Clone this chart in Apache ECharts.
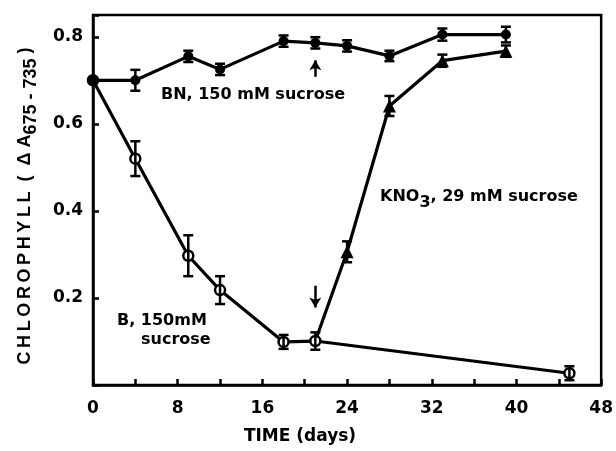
<!DOCTYPE html>
<html>
<head>
<meta charset="utf-8">
<script src="https://cdn.jsdelivr.net/npm/echarts@6/dist/echarts.min.js"></script>
<style>
html,body{margin:0;padding:0;background:#fff;}
#main{width:616px;height:451px;}
</style>
</head>
<body>
<div id="main"></div>
<script>
// ---- data ----
const daysBN = [0, 4, 9, 12, 18, 21, 24, 28, 33, 39];
const chlBN  = [0.70, 0.70, 0.755, 0.725, 0.79, 0.786, 0.779, 0.756, 0.805, 0.805];
const errBN  = [0, 0.024, 0.013, 0.013, 0.013, 0.013, 0.013, 0.012, 0.014, 0.018];

const daysB = [0, 4, 9, 12, 18, 21, 45];
const chlB  = [0.70, 0.52, 0.297, 0.218, 0.099, 0.101, 0.027];
const errB  = [0, 0.04, 0.047, 0.032, 0.016, 0.02, 0.016];

const daysK = [21, 24, 28, 33, 39];
const chlK  = [0.101, 0.306, 0.641, 0.745, 0.767];
const errK  = [0, 0.024, 0.023, 0.014, 0.013];

const xTicks = [0, 8, 16, 24, 32, 40, 48];
const yTicks = [0.2, 0.4, 0.6, 0.8];

const labelBN = 'BN, 150 mM sucrose';
const labelK  = ['KNO', '3', ', 29 mM sucrose'];
const labelB  = ['B, 150mM', 'sucrose'];
const yTitle  = ['CHLOROPHYLL', '\u00a0\u00a0(\u00a0\u00a0Δ\u00a0A', '675 - 735', '\u00a0)'];
const arrowUp = [[21, 0.708], [21, 0.746]];
const arrowDown = [[21, 0.228], [21, 0.178]];

const FONT = '"DejaVu Sans", sans-serif';
const spaced = s => s.split('').join('\u2009');

function pts(xs, ys) { return xs.map((x, i) => [x, ys[i]]); }
function errData(xs, ys, es) {
  const out = [];
  xs.forEach((x, i) => { if (es[i] > 0) out.push([x, ys[i] - es[i], ys[i] + es[i]]); });
  return out;
}
function errSeries(data) {
  return {
    type: 'custom',
    z: 5,
    data: data,
    renderItem: function (params, api) {
      const x = api.value(0);
      const lo = api.coord([x, api.value(1)]);
      const hi = api.coord([x, api.value(2)]);
      const w = 5;
      const st = { stroke: '#000', lineWidth: 2.5, fill: null };
      return {
        type: 'group',
        children: [
          { type: 'line', shape: { x1: lo[0], y1: lo[1], x2: hi[0], y2: hi[1] }, style: st },
          { type: 'line', shape: { x1: lo[0] - w, y1: lo[1], x2: lo[0] + w, y2: lo[1] }, style: st },
          { type: 'line', shape: { x1: hi[0] - w, y1: hi[1], x2: hi[0] + w, y2: hi[1] }, style: st }
        ]
      };
    },
    silent: true
  };
}

const chart = echarts.init(document.getElementById('main'), null, { renderer: 'canvas' });

const kData = pts(daysK, chlK).map((p, i) => i === 0 ? { value: p, symbol: 'none' } : p);

const option = {
  animation: false,
  backgroundColor: '#fff',
  grid: { left: 93, right: 14, top: 15, bottom: 66, show: true, borderColor: '#000', borderWidth: 2.5, backgroundColor: 'transparent' },
  xAxis: {
    type: 'value', min: 0, max: 48, interval: 4,
    axisLine: { show: true, lineStyle: { color: '#000', width: 2.5 } },
    axisTick: { show: true, inside: true, length: 6, lineStyle: { color: '#000', width: 2.5 } },
    splitLine: { show: false },
    axisLabel: {
      margin: 15, color: '#000', fontFamily: FONT, fontWeight: 'bold', fontSize: 17,
      formatter: v => xTicks.indexOf(v) >= 0 ? String(v) : ''
    }
  },
  yAxis: {
    type: 'value', min: 0, max: 0.85, interval: 0.2,
    axisLine: { show: true, lineStyle: { color: '#000', width: 2.5 } },
    axisTick: { show: true, inside: true, length: 6, lineStyle: { color: '#000', width: 2.5 } },
    splitLine: { show: false },
    axisLabel: {
      margin: 10, color: '#000', fontFamily: FONT, fontWeight: 'bold', fontSize: 17,
      formatter: v => yTicks.some(t => Math.abs(t - v) < 1e-6) ? v.toFixed(1) : ''
    }
  },
  series: [
    {
      type: 'line', data: pts(daysB, chlB), z: 3,
      symbol: 'circle', symbolSize: 10,
      lineStyle: { color: '#000', width: 3.2 },
      itemStyle: { color: '#fff', borderColor: '#000', borderWidth: 2.5 }
    },
    {
      type: 'line', data: kData, z: 3,
      symbol: 'triangle', symbolSize: 13,
      lineStyle: { color: '#000', width: 3.2 },
      itemStyle: { color: '#000' },
      markLine: {
        silent: true, symbol: ['none', 'arrow'], symbolSize: [9, 10],
        label: { show: false },
        lineStyle: { color: '#000', width: 2.5, type: 'solid' },
        data: [
          [{ coord: arrowUp[0] }, { coord: arrowUp[1] }],
          [{ coord: arrowDown[0] }, { coord: arrowDown[1] }]
        ]
      }
    },
    {
      type: 'line', data: pts(daysBN, chlBN), z: 4,
      symbol: 'circle', symbolSize: 10,
      lineStyle: { color: '#000', width: 3.2 },
      itemStyle: { color: '#000' }
    },
    errSeries(errData(daysB, chlB, errB)),
    errSeries(errData(daysK, chlK, errK)),
    errSeries(errData(daysBN, chlBN, errBN))
  ],
  graphic: [
    {
      type: 'text', x: 25, y: 206, rotation: Math.PI / 2,
      style: {
        text: '{m|' + spaced(yTitle[0]) + yTitle[1] + '}{s|' + yTitle[2] + '}{m|' + yTitle[3] + '}',
        align: 'center', verticalAlign: 'middle',
        rich: {
          m: { fontFamily: '"Liberation Sans", sans-serif', fontWeight: 'bold', fontSize: 18, fill: '#000', lineHeight: 22 },
          s: { fontFamily: '"Liberation Sans", sans-serif', fontWeight: 'bold', fontSize: 18, fill: '#000', lineHeight: 22, padding: [12, 0, 0, 0] }
        }
      }
    },
    {
      type: 'text', x: 300, y: 437,
      style: { text: 'TIME (days)', align: 'center', verticalAlign: 'middle', fontFamily: FONT, fontWeight: 'bold', fontSize: 17, fill: '#000' }
    },
    {
      type: 'text', x: 161, y: 95,
      style: { text: labelBN, align: 'left', verticalAlign: 'middle', fontFamily: FONT, fontWeight: 'bold', fontSize: 16, fill: '#000' }
    },
    {
      type: 'text', x: 380, y: 197,
      style: {
        text: '{m|' + labelK[0] + '}{s|' + labelK[1] + '}{m|' + labelK[2] + '}',
        align: 'left', verticalAlign: 'middle',
        rich: {
          m: { fontFamily: FONT, fontWeight: 'bold', fontSize: 16, fill: '#000', lineHeight: 20 },
          s: { fontFamily: FONT, fontWeight: 'bold', fontSize: 16, fill: '#000', lineHeight: 20, padding: [11, 0, 0, 0] }
        }
      }
    },
    {
      type: 'text', x: 117, y: 321,
      style: { text: labelB[0], align: 'left', verticalAlign: 'middle', fontFamily: FONT, fontWeight: 'bold', fontSize: 16, fill: '#000' }
    },
    {
      type: 'text', x: 141, y: 340,
      style: { text: labelB[1], align: 'left', verticalAlign: 'middle', fontFamily: FONT, fontWeight: 'bold', fontSize: 16, fill: '#000' }
    }
  ]
};
chart.setOption(option);
</script>
</body>
</html>
